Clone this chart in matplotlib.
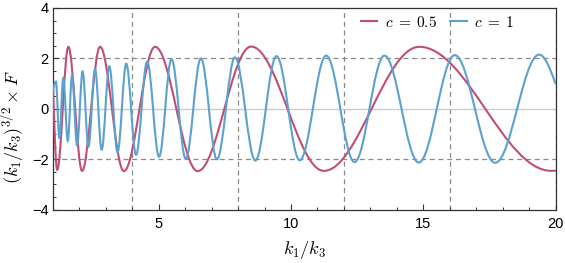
import matplotlib
matplotlib.use("Agg")
import matplotlib.pyplot as plt
from matplotlib.path import Path
from matplotlib.patches import PathPatch
from matplotlib.lines import Line2D
from matplotlib.ticker import MultipleLocator

plt.rcParams['font.family'] = ['Liberation Sans', 'DejaVu Sans']
plt.rcParams['mathtext.fontset'] = 'cm'

# Turning points (start, extrema, end)
red_x = [1.00, 1.16, 1.58, 2.10, 2.78, 3.68, 4.86, 6.47, 8.49, 11.24, 14.85, 19.84, 20.00]
red_y = [0.90, -2.42, 2.46, -2.46, 2.46, -2.47, 2.46, -2.47, 2.47, -2.46, 2.46, -2.46, -2.45]

blue_x = [1.00, 1.11, 1.24, 1.39, 1.56, 1.72, 1.91, 2.12, 2.34, 2.59, 2.84,
          3.13, 3.44, 3.77, 4.14, 4.56, 5.01, 5.48, 6.02, 6.59, 7.20, 7.88,
          8.65, 9.45, 10.33, 11.33, 12.40, 13.53, 14.83, 16.19, 17.72, 19.38, 20.00]
blue_y = [0.75, 1.08, -1.17, 1.22, -1.27, 1.33, -1.45, 1.48, -1.50, 1.58, -1.62,
          1.69, -1.72, 1.79, -1.82, 1.87, -1.90, 1.97, -1.98, 2.00, -2.00, 2.04,
          -2.05, 2.09, -2.04, 2.11, -2.11, 2.11, -2.13, 2.13, -2.14, 2.15, 1.01]

labels = [r'$c\;=\;0.5$', r'$c\;=\;1$']
colors = ['#C24D77', '#5AA2D0']


def smooth_path(xs, ys):
    # cubic bezier pieces, flat at the turning points
    n = len(xs)
    slopes = [0.0] * n
    slopes[0] = 1.5 * (ys[1] - ys[0]) / (xs[1] - xs[0])
    slopes[-1] = 1.5 * (ys[-1] - ys[-2]) / (xs[-1] - xs[-2])
    verts = [(xs[0], ys[0])]
    codes = [Path.MOVETO]
    for i in range(n - 1):
        dx = xs[i + 1] - xs[i]
        k0 = 1 / 3 if i == 0 else 0.36
        k1 = 1 / 3 if i == n - 2 else 0.36
        verts.append((xs[i] + k0 * dx, ys[i] + slopes[i] * k0 * dx))
        verts.append((xs[i + 1] - k1 * dx, ys[i + 1] - slopes[i + 1] * k1 * dx))
        verts.append((xs[i + 1], ys[i + 1]))
        codes += [Path.CURVE4] * 3
    return Path(verts, codes)


fig = plt.figure(figsize=(5.65, 2.63), dpi=100)
ax = fig.add_axes([0.0938, 0.2027, 0.8894, 0.7669])

# grid
for gx in [4, 8, 12, 16, 20]:
    ax.axvline(gx, color='#8a8a8a', lw=0.9, ls=(0, (4, 3)), zorder=1)
for gy in [-2, 2]:
    ax.axhline(gy, color='#8a8a8a', lw=0.9, ls=(0, (4, 3)), zorder=1)
ax.axhline(0, color='#cccccc', lw=1.0, zorder=1)

handles = []
for xs, ys, col, lab in [(red_x, red_y, colors[0], labels[0]),
                         (blue_x, blue_y, colors[1], labels[1])]:
    ax.add_patch(PathPatch(smooth_path(xs, ys), fill=False, edgecolor=col,
                           lw=1.5, zorder=3, capstyle='round'))
    handles.append(Line2D([], [], color=col, lw=1.5, label=lab))

ax.set_xlim(1, 20)
ax.set_ylim(-4, 4)
ax.set_xticks([5, 10, 15, 20])
ax.xaxis.set_minor_locator(MultipleLocator(1))
ax.set_yticks([-4, -2, 0, 2, 4])
ax.yaxis.set_minor_locator(MultipleLocator(0.5))
ax.tick_params(which='both', direction='in', labelsize=10.5, color='#333333')
ax.tick_params(which='major', length=4, width=0.8)
ax.tick_params(which='minor', length=2.5, width=0.7)
ax.tick_params(axis='x', pad=5)
ax.tick_params(axis='y', pad=3)
ax.set_yticklabels(['\u22124', '\u22122', '0', '2', '4'])

for s in ax.spines.values():
    s.set_color('#333333')
    s.set_linewidth(0.9)

ax.set_xlabel(r'$k_1/k_3$', fontsize=13, labelpad=6)
ax.set_ylabel(r'$(k_1/k_3)^{3/2}\times F$', fontsize=13)
ax.yaxis.set_label_coords(-0.052, 0.41)

ax.legend(handles=handles, loc='center left', bbox_to_anchor=(0.612, 0.93),
          ncol=2, frameon=False, fontsize=11, handlelength=1.1,
          handletextpad=0.5, columnspacing=0.85, borderpad=0, borderaxespad=0)

fig.savefig('out.png', dpi=100)
